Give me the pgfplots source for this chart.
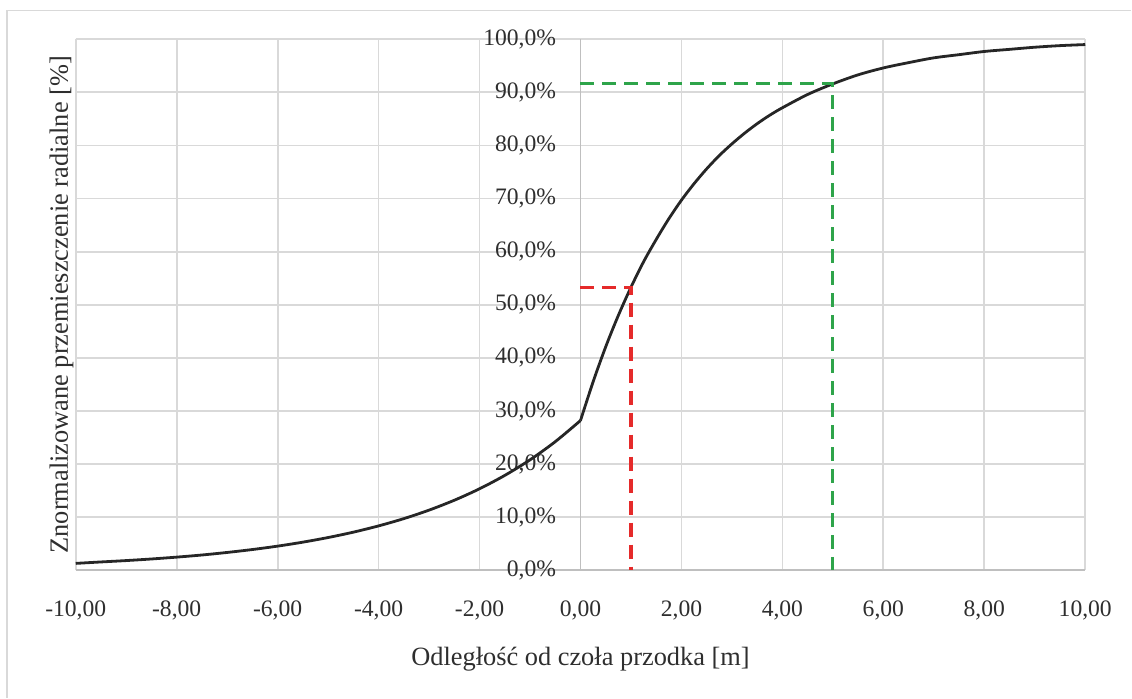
\documentclass[border=0pt]{standalone}
\usepackage{pgfplots}
\pgfplotsset{compat=1.18}
\usepackage{fontspec}
\setmainfont{Liberation Serif}
\usetikzlibrary{calc}

\definecolor{gridgray}{HTML}{D9D9D9}
\definecolor{axgray}{HTML}{BFBFBF}
\definecolor{txt}{HTML}{2E2E2E}
\definecolor{curvecol}{HTML}{262626}
\definecolor{ldpred}{HTML}{E52A2A}
\definecolor{ldpgreen}{HTML}{2EA44A}

\begin{document}
\begin{tikzpicture}
\begin{axis}[
  name=ax, at={(0,0)}, anchor=south west,
  scale only axis, width=505.1pt, height=265.7pt,
  xmin=-10, xmax=10, ymin=0, ymax=100,
  axis lines=middle,
  axis line style={axgray, line width=0.9pt, -},
  every inner x axis line/.append style={-},
  every inner y axis line/.append style={-},
  grid=major,
  major grid style={gridgray, line width=0.9pt},
  major tick length=0pt,
  hide obscured x ticks=false,
  hide obscured y ticks=false,
  xtick={-10,-8,-6,-4,-2,0,2,4,6,8,10},
  xticklabels={{-10,00},{-8,00},{-6,00},{-4,00},{-2,00},{0,00},{2,00},{4,00},{6,00},{8,00},{10,00}},
  ytick={0,10,20,30,40,50,60,70,80,90,100},
  yticklabels={{0,0\%},{10,0\%},{20,0\%},{30,0\%},{40,0\%},{50,0\%},{60,0\%},{70,0\%},{80,0\%},{90,0\%},{100,0\%}},
  tick label style={font=\fontsize{11.8}{14}\selectfont, text=txt},
  xticklabel style={anchor=north, yshift=-11.5pt},
  yticklabel style={anchor=east, xshift=-8.7pt},
  xlabel={Odległość od czoła przodka [m]},
  ylabel={Znormalizowane przemieszczenie radialne [\%]},
  every axis x label/.style={at={(rel axis cs:0.5,-0.179)}, anchor=base,
    font=\fontsize{13.2}{16}\selectfont, text=txt},
  every axis y label/.style={at={(rel axis cs:-0.0077,0.5)}, anchor=base, rotate=90,
    font=\fontsize{13.2}{16}\selectfont, text=txt},
  clip=false,
]
% ahead of the face
\addplot[curvecol, line width=1.4pt, smooth] coordinates {
  (-10,1.3) (-9.5,1.57) (-9,1.83) (-8.5,2.13) (-8,2.48) (-7.5,2.88)
  (-7,3.36) (-6.5,3.91) (-6,4.55) (-5.5,5.30) (-5,6.17) (-4.5,7.18)
  (-4,8.36) (-3.5,9.73) (-3,11.33) (-2.5,13.19) (-2,15.35) (-1.5,17.87)
  (-1,20.8) (-0.5,24.22) (0,28.2)
};
% behind the face
\addplot[curvecol, line width=1.4pt, smooth] coordinates {
  (0,28.2) (0.25,35.5) (0.5,42.1) (0.75,48.0) (1,53.3) (1.25,58.1)
  (1.5,62.3) (1.75,66.2) (2,69.7) (2.25,72.8) (2.5,75.6) (2.75,78.1)
  (3,80.3) (3.25,82.3) (3.5,84.1) (3.75,85.7) (4,87.1) (4.5,89.6)
  (5,91.6) (5.5,93.3) (6,94.6) (6.5,95.6) (7,96.5) (7.5,97.1)
  (8,97.7) (8.5,98.1) (9,98.5) (9.5,98.8) (10,99.0)
};
% reference readings at 1 m and 5 m
\addplot[ldpred, line width=1.6pt, dash pattern=on 7pt off 4pt] coordinates {
  (0,53.3) (1,53.3) (1,0)
};
\addplot[ldpgreen, line width=1.6pt, dash pattern=on 7pt off 4pt] coordinates {
  (0,91.6) (5,91.6) (5,0)
};
\end{axis}
% chart area frame
\draw[gridgray, line width=0.8pt]
  ($(ax.south west)+(-34.4pt,-63.65pt)$) -- ($(ax.south west)+(-34.4pt,280pt)$)
  -- ($(ax.south west)+(528.1pt,280pt)$);
\path ($(ax.south west)+(-37.9pt,-63.65pt)$) rectangle ($(ax.south west)+(528.1pt,285.35pt)$);
\end{tikzpicture}
\end{document}
